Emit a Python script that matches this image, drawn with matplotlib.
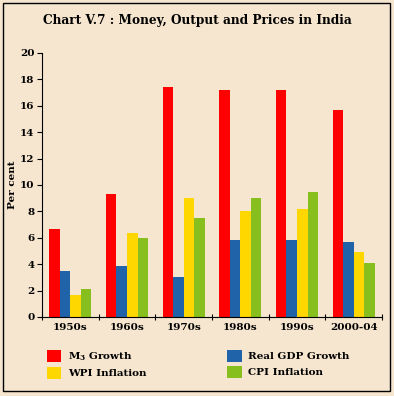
"""
Chart V.7 : Money, Output and Prices in India -- grouped bars by decade.
"""

import matplotlib
matplotlib.use("Agg")
import matplotlib.pyplot as plt
import numpy as np
from matplotlib.patches import Rectangle

# Data (per cent)
periods = ["1950s", "1960s", "1970s", "1980s", "1990s", "2000-04"]
m3_growth = [6.7, 9.3, 17.4, 17.2, 17.2, 15.7]
real_gdp_growth = [3.5, 3.9, 3.0, 5.8, 5.8, 5.7]
wpi_inflation = [1.7, 6.4, 9.0, 8.0, 8.2, 4.9]
cpi_inflation = [2.1, 6.0, 7.5, 9.0, 9.5, 4.1]

series_labels = ["M$_\\mathregular{3}$ Growth", "Real GDP Growth", "WPI Inflation", "CPI Inflation"]
series_colors = ["#FF0000", "#2163A8", "#FFD700", "#86BF1E"]
y_ticks = list(range(0, 21, 2))

BG = "#F6E6CF"
FONT = "DejaVu Serif"

plt.rcParams["font.family"] = FONT
plt.rcParams["font.weight"] = "bold"
plt.rcParams["mathtext.fontset"] = "custom"
plt.rcParams["mathtext.rm"] = "DejaVu Serif:bold"

fig = plt.figure(figsize=(3.94, 3.96), dpi=100, facecolor=BG)
ax = fig.add_axes([0.1066, 0.1995, 0.8629, 0.6667])
ax.set_facecolor(BG)

# outer border of the panel
fig.patches.append(Rectangle((3 / 394, 5 / 396), 387 / 394, 388 / 396, transform=fig.transFigure,
                             fill=False, edgecolor="black", linewidth=1.0))

x = np.arange(len(periods))
width = 0.186
all_series = [m3_growth, real_gdp_growth, wpi_inflation, cpi_inflation]
handles = []
for i, (vals, col) in enumerate(zip(all_series, series_colors)):
    b = ax.bar(x + (i - 1.5) * width, vals, width, color=col, linewidth=0)
    handles.append(b)

ax.set_xlim(-0.5, len(periods) - 0.5)
ax.set_ylim(0, 20)
ax.set_yticks(y_ticks)
ax.set_yticklabels([str(t) for t in y_ticks], fontsize=7.5, fontweight="bold")

# group boundaries get the tick marks, labels sit at the group centres
ax.set_xticks(np.arange(-0.5, len(periods), 1.0))
ax.set_xticklabels([])
ax.set_xticks(x, minor=True)
ax.set_xticklabels(periods, minor=True, fontsize=7.5, fontweight="bold")
ax.tick_params(axis="x", which="minor", length=0, pad=4)
ax.tick_params(axis="x", which="major", length=4, direction="inout", width=0.8)
ax.tick_params(axis="y", length=3.5, width=0.8, pad=2)

for s in ["top", "right"]:
    ax.spines[s].set_visible(False)
for s in ["left", "bottom"]:
    ax.spines[s].set_linewidth(0.8)

ax.set_ylabel("Per cent", fontsize=7.5, fontweight="bold", labelpad=2)

fig.text(0.5, 0.948, "Chart V.7 : Money, Output and Prices in India", ha="center", va="center",
         fontsize=8.7, fontweight="bold")

# legend order: column 1 = M3, WPI ; column 2 = GDP, CPI
order = [0, 2, 1, 3]
fig.legend([handles[i] for i in order], [series_labels[i] for i in order], ncol=2,
           loc="upper left", bbox_to_anchor=(0.095, 0.14), frameon=False,
           fontsize=7.5, handlelength=1.4, handleheight=1.4, handletextpad=0.6,
           columnspacing=7.8, labelspacing=0.35)

fig.savefig("out.png", dpi=100, facecolor=BG)
